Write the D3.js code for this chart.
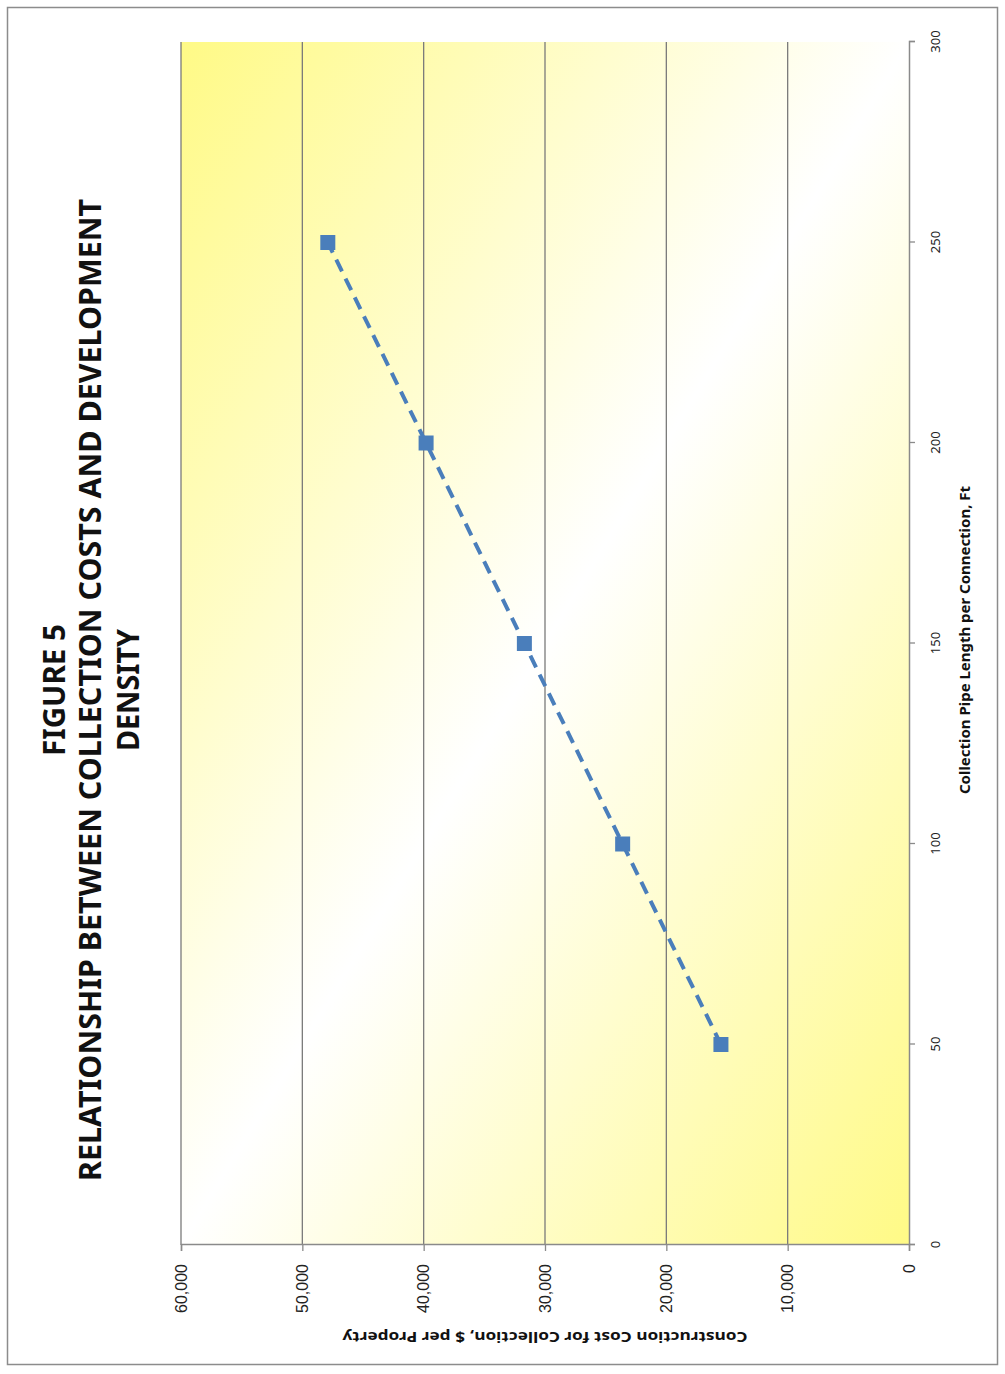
<!DOCTYPE html>
<html>
<head>
<meta charset="utf-8">
<script src="https://cdn.jsdelivr.net/npm/d3@7"></script>
<style>
  html, body { margin: 0; padding: 0; background: #ffffff; }
  svg { display: block; }
</style>
</head>
<body>
<svg id="chart" width="1005" height="1374"></svg>
<script>
// Pipe length per connection (ft) and construction cost per property ($)
const pipeLength = [50, 100, 150, 200, 250];
const costPerProperty = [15500, 23600, 31700, 39800, 47900];

const xTicks = [0, 50, 100, 150, 200, 250, 300];
const yTicks = [0, 10000, 20000, 30000, 40000, 50000, 60000];

const titleLines = ["FIGURE 5", "RELATIONSHIP BETWEEN COLLECTION COSTS AND DEVELOPMENT", "DENSITY"];
const xTitle = "Collection Pipe Length per Connection, Ft";
const yTitle = "Construction Cost for Collection,  $ per Property";

const W = 1005, H = 1374;
const svg = d3.select("#chart");
const condensed = "'Liberation Sans Narrow', 'Noto Sans', sans-serif";

// Outer frame
svg.append("rect")
  .attr("x", 7.5).attr("y", 7.5).attr("width", 990).attr("height", 1357)
  .attr("fill", "#ffffff").attr("stroke", "#8c8c8c").attr("stroke-width", 1.5);

// The chart is laid out in a landscape frame and turned a quarter turn
// so that it reads along the page: (u, v) -> (v, H - u)
const g = svg.append("g").attr("transform", `translate(0,${H}) rotate(-90)`);

const x = d3.scaleLinear().domain([0, 300]).range([129, 1332]);
const y = d3.scaleLinear().domain([0, 60000]).range([909, 181]);

// Plot area gradient: yellow corners fading to white across the middle
const defs = svg.append("defs");
const grad = defs.append("linearGradient").attr("id", "plotFill")
  .attr("x1", 1).attr("y1", 0).attr("x2", 0).attr("y2", 1);
grad.append("stop").attr("offset", "0%").attr("stop-color", "#fffa86");
grad.append("stop").attr("offset", "50%").attr("stop-color", "#ffffff");
grad.append("stop").attr("offset", "100%").attr("stop-color", "#fffa86");

g.append("rect")
  .attr("x", x(0)).attr("y", y(60000))
  .attr("width", x(300) - x(0)).attr("height", y(0) - y(60000))
  .attr("fill", "url(#plotFill)");

// Horizontal gridlines
g.append("g").selectAll("line")
  .data(yTicks.filter(d => d > 0))
  .join("line")
  .attr("x1", x(0)).attr("x2", x(300))
  .attr("y1", d => y(d)).attr("y2", d => y(d))
  .attr("stroke", "#7a7a7a").attr("stroke-width", 1.3);

// Category (pipe length) axis
const xAxis = g.append("g")
  .attr("transform", `translate(0,${y(0)})`)
  .call(d3.axisBottom(x).tickValues(xTicks).tickSize(6).tickPadding(16).tickFormat(d3.format("d")));
xAxis.select(".domain").attr("stroke", "#8a8a8a").attr("stroke-width", 1.5);
xAxis.selectAll(".tick line").attr("stroke", "#8a8a8a").attr("stroke-width", 1.3);
xAxis.selectAll("text")
  .attr("font-family", "'Noto Sans', sans-serif").attr("font-size", 13).attr("fill", "#222");

// Value (cost) axis
const yAxis = g.append("g")
  .attr("transform", `translate(${x(0)},0)`)
  .call(d3.axisLeft(y).tickValues(yTicks).tickSize(6).tickPadding(13).tickFormat(d3.format(",")));
yAxis.select(".domain").attr("stroke", "#8a8a8a").attr("stroke-width", 1.5);
yAxis.selectAll(".tick line").attr("stroke", "#8a8a8a").attr("stroke-width", 1.3);
yAxis.selectAll("text")
  .attr("font-family", "'Liberation Sans', Arial, sans-serif").attr("font-size", 16).attr("fill", "#222");

// Series: dashed connecting line and square markers
const pts = pipeLength.map((p, i) => [p, costPerProperty[i]]);
g.append("path")
  .datum(pts)
  .attr("fill", "none")
  .attr("stroke", "#4a7ebb").attr("stroke-width", 4)
  .attr("stroke-dasharray", "13,8")
  .attr("d", d3.line().x(d => x(d[0])).y(d => y(d[1])));

const ms = 15;
g.append("g").selectAll("rect")
  .data(pts)
  .join("rect")
  .attr("x", d => x(d[0]) - ms / 2).attr("y", d => y(d[1]) - ms / 2)
  .attr("width", ms).attr("height", ms)
  .attr("fill", "#4a7ebb");

// Chart title
const titleBaselines = [65, 101, 139];
const titleLengths = [132, 982, 122];
g.append("g").selectAll("text")
  .data(titleLines)
  .join("text")
  .attr("x", 684).attr("y", (d, i) => titleBaselines[i])
  .attr("text-anchor", "middle")
  .attr("font-family", condensed).attr("font-weight", "bold").attr("font-size", 31)
  .attr("textLength", (d, i) => titleLengths[i]).attr("lengthAdjust", "spacingAndGlyphs")
  .attr("fill", "#111")
  .text(d => d);

// Axis titles
g.append("text")
  .attr("x", 734).attr("y", 970)
  .attr("text-anchor", "middle")
  .attr("font-family", condensed).attr("font-weight", "bold").attr("font-size", 14)
  .attr("textLength", 308).attr("lengthAdjust", "spacingAndGlyphs")
  .attr("fill", "#111")
  .text(xTitle);

g.append("text")
  .attr("transform", `translate(42,${(y(0) + y(60000)) / 2}) rotate(-90)`)
  .attr("text-anchor", "middle")
  .attr("font-family", condensed).attr("font-weight", "bold").attr("font-size", 15)
  .attr("textLength", 405).attr("lengthAdjust", "spacingAndGlyphs")
  .attr("fill", "#111")
  .text(yTitle);
</script>
</body>
</html>
